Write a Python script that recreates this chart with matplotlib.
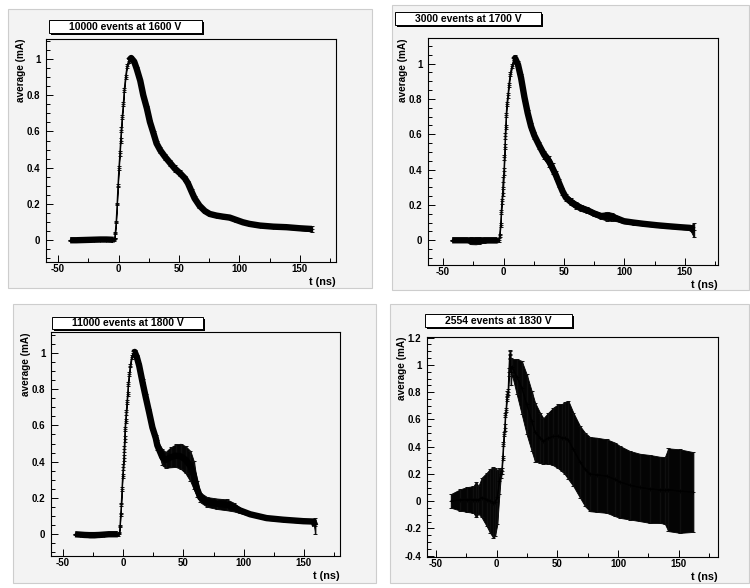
import numpy as np
import matplotlib
matplotlib.use('Agg')
import matplotlib.pyplot as plt
from matplotlib.patches import Rectangle
from matplotlib.ticker import MultipleLocator, FuncFormatter

plt.rcParams['font.family'] = ['Liberation Sans', 'DejaVu Sans']
plt.rcParams['font.weight'] = 'bold'
plt.rcParams['axes.unicode_minus'] = False

# Averaged pulses (t in ns, average in mA, error in mA), one set per voltage
t_1600 = [-40, -35, -30, -25, -20, -15, -10, -6, -4,
          -3.3, -2.75, -2.0, -1.2, -0.5, 0.3, 1.1, 1.7, 2.3, 3.0, 3.9, 4.7, 5.8, 7.0, 8.5, 10.5,
          13, 15, 18, 20.5, 23.5, 26, 29, 31.5, 34.5, 38.5, 42.5, 46.5, 51, 55, 57.5, 60.5,
          63, 67, 71.5, 75.5, 81, 86.5, 92, 97.5, 103, 108.5, 117, 128, 139, 150, 160]
avg_1600 = [0.0, 0.0, 0.001, 0.002, 0.003, 0.004, 0.004, 0.003, 0.002,
            0.01, 0.04, 0.10, 0.20, 0.30, 0.40, 0.48, 0.55, 0.61, 0.68, 0.75, 0.83, 0.90, 0.96, 0.99, 1.005,
            0.985, 0.947, 0.88, 0.80, 0.727, 0.653, 0.589, 0.534, 0.497, 0.46, 0.428, 0.396, 0.369, 0.341, 0.314, 0.268,
            0.231, 0.191, 0.161, 0.145, 0.136, 0.130, 0.125, 0.112, 0.099, 0.090, 0.081, 0.075, 0.072, 0.066, 0.062]
err_1600 = [0.002, 0.003, 0.005, 0.006, 0.007, 0.008, 0.008, 0.008, 0.008,
            0.004, 0.005, 0.006, 0.008, 0.009, 0.012, 0.013, 0.013, 0.012, 0.011, 0.010, 0.010, 0.010, 0.010, 0.010, 0.010,
            0.008, 0.008, 0.009, 0.010, 0.011, 0.012, 0.013, 0.014, 0.016, 0.017, 0.017, 0.017, 0.016, 0.015, 0.014, 0.013,
            0.012, 0.011, 0.010, 0.010, 0.010, 0.010, 0.010, 0.010, 0.009, 0.009, 0.009, 0.009, 0.009, 0.010, 0.014]

t_1700 = [-42.5, -38, -33, -30, -27, -23, -20, -16, -12, -8, -5,
          -3.8, -3.3, -2.5, -1.9, -1.4, -0.8, -0.3, 0.3, 0.8, 1.1, 1.4, 1.7, 2.2, 2.7, 3.6, 4.4, 5.5, 6.9, 8.5, 9.6,
          12, 14.5, 17.3, 20, 22.8, 25.5, 29.6, 33.7, 37.9, 40.6, 43.3, 46.1, 48.8, 51.6, 55.7, 59.8,
          63.9, 69.4, 74.9, 80.4, 85.9, 90, 94.1, 99.6, 107.8, 116, 127, 135.3, 146.2, 154.5, 157.5]
avg_1700 = [0.0, 0.0, 0.0, 0.0, -0.002, -0.003, -0.002, 0.0, 0.0, 0.0, 0.0,
            0.003, 0.028, 0.085, 0.16, 0.22, 0.27, 0.33, 0.39, 0.47, 0.53, 0.59, 0.64, 0.71, 0.77, 0.82, 0.88, 0.94, 0.985, 1.02, 1.03,
            0.994, 0.92, 0.81, 0.72, 0.644, 0.593, 0.536, 0.483, 0.445, 0.407, 0.369, 0.322, 0.278, 0.242, 0.218, 0.199,
            0.184, 0.170, 0.152, 0.138, 0.136, 0.133, 0.123, 0.108, 0.100, 0.093, 0.085, 0.080, 0.074, 0.070, 0.057]
err_1700 = [0.002, 0.003, 0.004, 0.010, 0.020, 0.020, 0.018, 0.013, 0.012, 0.012, 0.012,
            0.010, 0.008, 0.010, 0.012, 0.015, 0.020, 0.030, 0.020, 0.015, 0.015, 0.015, 0.012, 0.012, 0.012, 0.012, 0.012, 0.012, 0.012, 0.015, 0.020,
            0.020, 0.020, 0.020, 0.020, 0.020, 0.020, 0.022, 0.025, 0.030, 0.030, 0.025, 0.022, 0.020, 0.020, 0.020, 0.020,
            0.018, 0.016, 0.016, 0.016, 0.025, 0.022, 0.016, 0.012, 0.011, 0.010, 0.010, 0.010, 0.010, 0.012, 0.040]

t_1800 = [-40, -36, -32, -28, -24, -20, -16, -12, -8, -4.5,
          -3.3, -2.75, -2.2, -1.65, -1.1, -0.55, 0.0, 0.5, 0.8, 1.1, 1.4, 1.9, 2.5, 3.0, 3.6, 4.1, 5.0, 5.8, 6.9, 8.3,
          9.5, 11.3, 13.2, 16, 18.7, 21.5, 24.2, 27, 28.3, 32.5, 35.2, 39.3, 43.5, 47.6, 51.7, 55.8, 58.6, 61.3,
          64.1, 69.6, 77.9, 86.1, 91.6, 97.1, 105.4, 119, 132.9, 149.4, 158, 159.5]
avg_1800 = [0.0, -0.002, -0.004, -0.005, -0.005, -0.004, -0.002, 0.0, 0.0, 0.0,
            0.005, 0.046, 0.11, 0.166, 0.25, 0.32, 0.37, 0.42, 0.47, 0.525, 0.58, 0.626, 0.672, 0.727, 0.773, 0.83, 0.884, 0.93, 0.976, 1.0,
            1.005, 0.976, 0.93, 0.838, 0.755, 0.672, 0.589, 0.53, 0.49, 0.424, 0.41, 0.424, 0.433, 0.43, 0.411, 0.375, 0.325, 0.25,
            0.2025, 0.178, 0.168, 0.162, 0.15, 0.131, 0.11, 0.089, 0.08, 0.072, 0.07, 0.046]
err_1800 = [0.002, 0.006, 0.010, 0.012, 0.012, 0.011, 0.010, 0.008, 0.008, 0.008,
            0.006, 0.006, 0.007, 0.008, 0.010, 0.012, 0.015, 0.015, 0.015, 0.015, 0.013, 0.012, 0.012, 0.011, 0.010, 0.010, 0.010, 0.010, 0.010, 0.010,
            0.010, 0.012, 0.014, 0.016, 0.018, 0.020, 0.012, 0.018, 0.027, 0.045, 0.044, 0.055, 0.062, 0.069, 0.075, 0.084, 0.078, 0.044,
            0.027, 0.027, 0.029, 0.030, 0.024, 0.015, 0.009, 0.010, 0.009, 0.009, 0.010, 0.044]

t_1830 = [-37.6, -30.2, -24.7, -19.2, -17.0, -15.1, -12.4, -8.2, -5.5, -2.7, -1.4, 0.5, 2.2, 3.3,
          4.1, 4.9, 5.5, 6.0, 6.6, 7.1, 7.7, 8.2, 8.8, 9.4, 10.0, 10.6, 11.1,
          11.5, 12.4, 16.5, 20.6, 24.7, 28.8, 31.6, 35.7, 38.5, 42.6, 46.7, 50.8, 53.6, 56.3, 59.1,
          63.2, 68.7, 72.8, 76.9, 82.4, 90.7, 97.5, 101.6, 109.9, 118.1, 126.4, 134.6, 138.7, 141.5, 151.1, 162.1]
avg_1830 = [0.002, 0.009, 0.012, 0.012, 0.012, 0.009, 0.026, 0.012, 0.002, -0.01, -0.006, 0.03, 0.145, 0.2,
            0.22, 0.32, 0.42, 0.49, 0.54, 0.63, 0.67, 0.75, 0.79, 0.80, 0.95, 1.07, 1.08,
            0.95, 0.988, 0.914, 0.834, 0.711, 0.589, 0.507, 0.466, 0.442, 0.4625, 0.475, 0.476, 0.466, 0.4625, 0.448,
            0.38, 0.2885, 0.233, 0.1985, 0.1935, 0.184, 0.16, 0.141, 0.1165, 0.1005, 0.0895, 0.083, 0.0785, 0.084, 0.0735, 0.067]
err_1830 = [0.051, 0.078, 0.091, 0.098, 0.13, 0.101, 0.146, 0.197, 0.235, 0.26, 0.25, 0.2, 0.095, 0.03,
            0.02, 0.015, 0.015, 0.015, 0.025, 0.015, 0.015, 0.015, 0.015, 0.02, 0.03, 0.03, 0.03,
            0.1, 0.055, 0.129, 0.196, 0.221, 0.221, 0.217, 0.184, 0.167, 0.1875, 0.212, 0.236, 0.246, 0.2665, 0.288,
            0.27, 0.2635, 0.27, 0.2725, 0.2725, 0.27, 0.27, 0.264, 0.2515, 0.2475, 0.2495, 0.243, 0.2455, 0.304, 0.3065, 0.293]

titles = ['10000 events at 1600 V', '3000 events at 1700 V',
          '11000 events at 1800 V', '2554 events at 1830 V']

W, H = 750, 588


def fig_box(x0, y0, x1, y1):
    # pixel box (origin top-left) -> figure fraction rect
    return (x0 / W, 1 - y1 / H, (x1 - x0) / W, (y1 - y0) / H)


def label_fmt(x, pos):
    x = round(x, 6)
    return '0' if x == 0 else f'{x:g}'


panels = [
    dict(t=t_1600, v=avg_1600, e=err_1600, title=titles[0],
         pad=(8, 9, 372, 288), frame=(46, 39, 336, 262), box=(49, 20, 202, 33),
         xlim=(-60, 180), ylim=(-0.12, 1.11), rise=(-3.5, 7.5), lw=4.6),
    dict(t=t_1700, v=avg_1700, e=err_1700, title=titles[1],
         pad=(392, 5, 749, 290), frame=(428, 38, 718, 265), box=(395, 12, 541, 25),
         xlim=(-62.5, 177.5), ylim=(-0.14, 1.145), rise=(-4, 7.5), lw=4.6),
    dict(t=t_1800, v=avg_1800, e=err_1800, title=titles[2],
         pad=(13, 304, 376, 583), frame=(51, 332, 340, 556), box=(52, 317, 203, 329),
         xlim=(-60, 180), ylim=(-0.12, 1.115), rise=(-3.5, 7.5), lw=4.6),
    dict(t=t_1830, v=avg_1830, e=err_1830, title=titles[3],
         pad=(390, 304, 749, 583), frame=(427, 337, 718, 557), box=(425, 314, 572, 327),
         xlim=(-57.5, 182.5), ylim=(-0.41, 1.205), rise=(3.5, 11.2), lw=0.5),
]

fig = plt.figure(figsize=(7.5, 5.88), dpi=100, facecolor='white')

for p in panels:
    # pad background
    l, b, w, h = fig_box(*p['pad'])
    fig.add_artist(Rectangle((l, b), w, h, transform=fig.transFigure,
                             facecolor='#f3f3f3', edgecolor='#cdcdcd', lw=0.8, zorder=0))

    ax = fig.add_axes(fig_box(*p['frame']))
    ax.set_facecolor('#f3f3f3')
    t = np.asarray(p['t'])
    v = np.asarray(p['v'])
    e = np.asarray(p['e'])

    ax.fill_between(t, v - e, v + e, color='#040404', lw=0.6, edgecolor='black', zorder=2)
    ax.errorbar(t, v, yerr=e, fmt='none', ecolor='#0f0f0f', elinewidth=1.0,
                capsize=1.3, capthick=0.7, zorder=3)
    ax.plot(t, v, color='black', lw=0.8, marker='+', ms=3, mew=0.6, zorder=4)
    lo, hi = p['rise']
    for sel in (t <= lo, t >= hi):
        ax.plot(t[sel], v[sel], color='black', lw=p['lw'],
                solid_capstyle='butt', solid_joinstyle='round', zorder=4)

    ax.set_xlim(*p['xlim'])
    ax.set_ylim(*p['ylim'])
    ax.xaxis.set_major_locator(MultipleLocator(50))
    ax.xaxis.set_minor_locator(MultipleLocator(25))
    ax.yaxis.set_major_locator(MultipleLocator(0.2))
    ax.yaxis.set_minor_locator(MultipleLocator(0.05))
    ax.xaxis.set_major_formatter(FuncFormatter(label_fmt))
    ax.yaxis.set_major_formatter(FuncFormatter(label_fmt))
    ax.tick_params(which='both', direction='in', top=False, right=False,
                   width=0.7, labelsize=7.0)
    ax.tick_params(which='major', length=5)
    ax.tick_params(which='minor', length=2.6)
    ax.tick_params(axis='x', pad=1.5)
    ax.tick_params(axis='y', pad=4.0)
    for s in ax.spines.values():
        s.set_linewidth(0.8)

    ax.annotate('t (ns)', xy=(1, 0), xycoords='axes fraction', xytext=(0, -20),
                textcoords='offset pixels', ha='right', va='center', fontsize=7.8)
    ax.annotate('average (mA)', xy=(0, 1), xycoords='axes fraction', xytext=(-25, 0),
                textcoords='offset pixels', ha='center', va='top', rotation=90,
                fontsize=7.2)

    # title box with drop shadow
    bx0, by0, bx1, by1 = p['box']
    l, b, w, h = fig_box(bx0 + 2, by0 + 2, bx1 + 2, by1 + 2)
    fig.add_artist(Rectangle((l, b), w, h, transform=fig.transFigure,
                             facecolor='black', lw=0, zorder=5))
    l, b, w, h = fig_box(bx0, by0, bx1, by1)
    fig.add_artist(Rectangle((l, b), w, h, transform=fig.transFigure,
                             facecolor='white', edgecolor='black', lw=0.7, zorder=6))
    fig.text(l + w / 2, b + h / 2, p['title'], ha='center', va='center',
             fontsize=7.5, zorder=7)

fig.savefig('out.png', dpi=100, facecolor='white')
